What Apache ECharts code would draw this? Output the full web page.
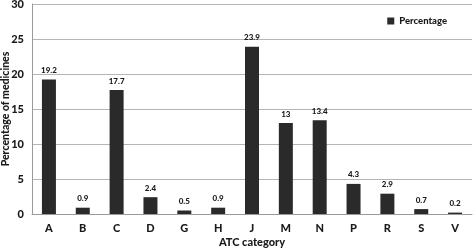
<!DOCTYPE html>
<html><head><meta charset="utf-8">
<script src="https://cdn.jsdelivr.net/npm/echarts@6/dist/echarts.min.js"></script>
<style>html,body{margin:0;padding:0;background:#fff}#c{width:473px;height:249px}</style>
</head><body><div id="c"></div>
<script>
const categories = ['A','B','C','D','G','H','J','M','N','P','R','S','V'];
const percentages = [19.2,0.9,17.7,2.4,0.5,0.9,23.9,13,13.4,4.3,2.9,0.7,0.2];
const yTicks = [0,5,10,15,20,25,30];
const chart = echarts.init(document.getElementById('c'));
const F = 'Lato, "Liberation Sans", sans-serif';
chart.setOption({
  animation:false,
  grid:{left:32,right:1,top:4,bottom:35,containLabel:false,outerBoundsMode:'none'},
  legend:{data:['Percentage'],right:21,top:11,itemWidth:7,itemHeight:7,itemGap:3,
    icon:'rect',textStyle:{fontFamily:F,fontSize:9.5,fontWeight:900,color:'#1a1a1a'}},
  xAxis:{type:'category',data:categories,
    name:'ATC category',nameLocation:'middle',nameGap:23,nameMoveOverlap:false,
    nameTextStyle:{fontFamily:F,fontSize:11,fontWeight:900,color:'#1a1a1a'},
    axisLine:{lineStyle:{color:'#9a9a9a',width:1}},axisTick:{show:false},
    axisLabel:{fontFamily:F,fontSize:11,fontWeight:900,color:'#1a1a1a',margin:9}},
  yAxis:{type:'value',min:0,max:30,interval:5,
    name:'Percentage of medicines',nameLocation:'middle',nameGap:21,nameMoveOverlap:false,
    nameTextStyle:{fontFamily:F,fontSize:10.5,fontWeight:900,color:'#1a1a1a'},
    axisLine:{show:true,lineStyle:{color:'#9a9a9a',width:1}},axisTick:{show:false},
    axisLabel:{fontFamily:F,fontSize:11,fontWeight:900,color:'#1a1a1a',margin:8,
      formatter:v=>yTicks.includes(v)?String(v):''},
    splitLine:{lineStyle:{color:'#b5b5b5',width:1}}},
  series:[{name:'Percentage',type:'bar',data:percentages,barWidth:14,
    itemStyle:{color:'#2a2a2a'},
    label:{show:true,position:'top',distance:5,fontFamily:F,fontSize:8,fontWeight:900,color:'#1a1a1a'}}]
});
</script></body></html>
